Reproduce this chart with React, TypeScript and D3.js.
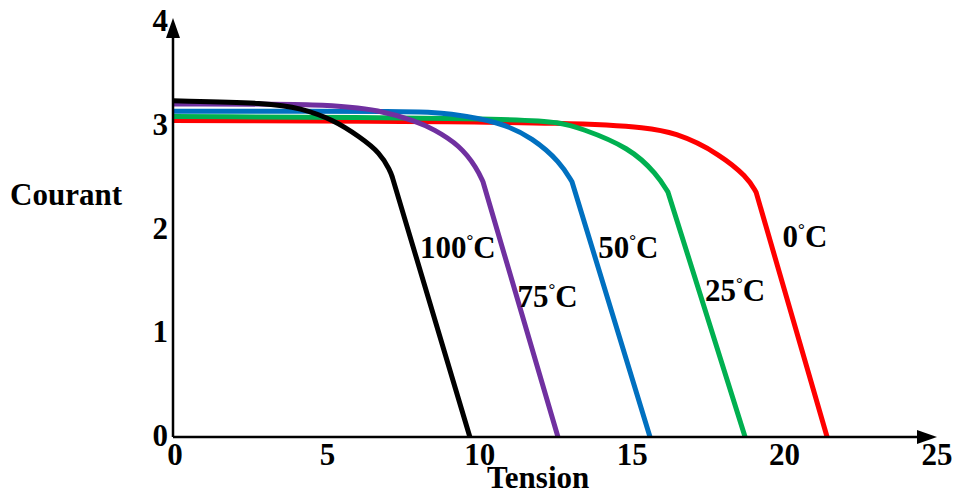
import * as d3 from 'd3'
import React from 'react'

// temperatures and I-V curves (tension, courant)
const labels = ['0', '25', '50', '75', '100']
const colors = ['#ff0000', '#00b050', '#0070c0', '#7030a0', '#000000']

const curve0: [number, number][] = [[0, 3.05], [14.67, 3.04], [16.63, 2.93], [17.95, 2.72], [18.83, 2.51], [19.13, 2.36], [21.46, 0]]
const curve25: [number, number][] = [[0, 3.09], [11.38, 3.07], [12.7, 3.03], [13.35, 2.98], [14.99, 2.79], [15.88, 2.53], [16.24, 2.36], [18.77, 0]]
const curve50: [number, number][] = [[0, 3.14], [8.27, 3.14], [8.96, 3.12], [10.73, 3.04], [11.81, 2.88], [12.7, 2.65], [13.09, 2.46], [15.65, 0]]
const curve75: [number, number][] = [[0, 3.21], [5.15, 3.21], [6.79, 3.15], [8.0, 3.04], [8.53, 2.97], [9.42, 2.81], [9.97, 2.59], [10.17, 2.46], [12.63, 0]]
const curve100: [number, number][] = [[0, 3.24], [3.18, 3.22], [4.17, 3.17], [5.25, 3.06], [6.14, 2.89], [6.79, 2.74], [7.12, 2.57], [7.2, 2.5], [9.74, 0]]

const curves = [curve0, curve25, curve50, curve75, curve100]

// where each temperature label sits (tension, courant)
const labelPos: [number, number][] = [[20.0, 1.83], [17.45, 1.31], [13.95, 1.73], [11.3, 1.25], [8.1, 1.73]]

const xTicks = [0, 5, 10, 15, 20, 25]
const yTicks = [0, 1, 2, 3, 4]

export default function App() {
  const width = 957
  const height = 494

  const x = d3.scaleLinear().domain([0, 25]).range([173, 935])
  const y = d3.scaleLinear().domain([0, 4]).range([437, 22])

  const smooth = d3.line<[number, number]>()
    .x(d => x(d[0]))
    .y(d => y(d[1]))
    .curve(d3.curveBasis)

  // smooth part up to the knee, then a straight drop to the axis
  const path = (pts: [number, number][]) => {
    const last = pts[pts.length - 1]
    return smooth(pts.slice(0, -1)) + 'L' + x(last[0]) + ',' + y(last[1])
  }

  const font = { fontFamily: '"Liberation Serif", "Times New Roman", serif', fontWeight: 'bold' as const, fontSize: 31 }
  const x0 = x(0)
  const y0 = y(0)

  return (
    <svg width={width} height={height} style={{ position: 'absolute', left: 0, top: 0, background: '#fff' }}>
      {curves.map((c, i) => (
        <path key={i} d={path(c)} fill="none" stroke={colors[i]} strokeWidth={5} strokeLinejoin="round" />
      ))}

      <line x1={x0} y1={y0} x2={x0} y2={32} stroke="#000" strokeWidth={2.5} />
      <path d={`M${x0},18 L${x0 - 7},38 L${x0 + 7},38 Z`} fill="#000" />
      <line x1={x0} y1={y0} x2={922} y2={y0} stroke="#000" strokeWidth={2.5} />
      <path d={`M937,${y0} L917,${y0 - 7} L917,${y0 + 7} Z`} fill="#000" />

      {xTicks.map(t => (
        <text key={t} x={x(t) + 2} y={465} textAnchor="middle" style={font}>{t}</text>
      ))}
      {yTicks.map(t => (
        <text key={t} x={168} y={y(t) + 9} textAnchor="end" style={font}>{t}</text>
      ))}

      <text x={10} y={205} style={font}>Courant</text>
      <text x={487} y={488} style={font}>Tension</text>

      {labels.map((l, i) => (
        <text key={l} x={x(labelPos[i][0])} y={y(labelPos[i][1])} style={font}>
          {l}
          <tspan fontSize={17} dy={-12}>°</tspan>
          <tspan dy={12}>C</tspan>
        </text>
      ))}
    </svg>
  )
}
